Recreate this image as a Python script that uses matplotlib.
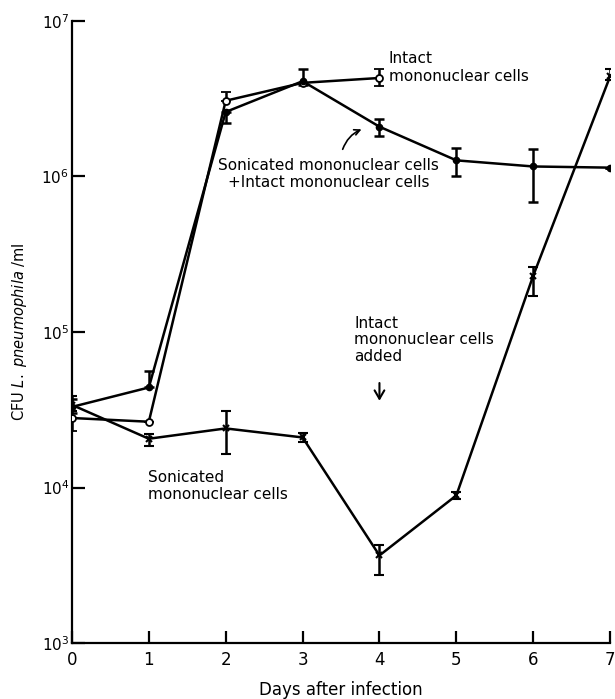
import math
import matplotlib
matplotlib.use("Agg")
import matplotlib.pyplot as plt
from matplotlib.ticker import FixedLocator, FuncFormatter

# days after infection
days = [0, 1, 2, 3, 4, 5, 6, 7]
intact_days = [0, 1, 2, 3, 4]

# intact mononuclear cells (open circles)
intact = [2.8e4, 2.65e4, 3.07e6, 4.0e6, 4.3e6]
intact_lo = [2.3e4, 2.65e4, 3.07e6, 4.0e6, 3.8e6]
intact_hi = [2.8e4, 2.65e4, 3.5e6, 4.0e6, 4.9e6]

# sonicated + intact mononuclear cells (filled circles)
combo = [3.3e4, 4.4e4, 2.6e6, 4.1e6, 2.09e6, 1.27e6, 1.16e6, 1.14e6]
combo_lo = [3.0e4, 4.4e4, 2.2e6, 3.9e6, 1.83e6, 1.0e6, 6.9e5, 1.14e6]
combo_hi = [3.7e4, 5.6e4, 2.6e6, 4.9e6, 2.35e6, 1.53e6, 1.5e6, 1.14e6]

# sonicated mononuclear cells (x), intact cells added at day 4
sonic = [3.4e4, 2.06e4, 2.4e4, 2.1e4, 3.66e3, 8.9e3, 2.3e5, 4.4e6]
sonic_lo = [3.1e4, 1.85e4, 1.65e4, 1.95e4, 2.75e3, 8.5e3, 1.7e5, 4.2e6]
sonic_hi = [3.9e4, 2.2e4, 3.1e4, 2.25e4, 4.3e3, 9.3e3, 2.6e5, 4.9e6]

yticks = [1e3, 1e4, 1e5, 1e6, 1e7]

plt.rcParams["font.family"] = "DejaVu Sans"
plt.rcParams["mathtext.fontset"] = "dejavusans"

fig = plt.figure(figsize=(6.15, 6.99), dpi=100)
ax = fig.add_axes([0.117, 0.080, 0.875, 0.890])


def errs(vals, lo, hi):
    return [[v - l for v, l in zip(vals, lo)], [h - v for v, h in zip(vals, hi)]]


ax.errorbar(intact_days, intact, yerr=errs(intact, intact_lo, intact_hi),
            color="black", lw=1.8, marker="o", ms=5, mfc="white", mec="black",
            mew=1.3, capsize=3.5, capthick=1.8, elinewidth=1.8, zorder=3)
ax.errorbar(days, combo, yerr=errs(combo, combo_lo, combo_hi),
            color="black", lw=1.8, marker="o", ms=4.5, mfc="black",
            capsize=3.5, capthick=1.8, elinewidth=1.8, zorder=3)
ax.errorbar(days, sonic, yerr=errs(sonic, sonic_lo, sonic_hi),
            color="black", lw=1.8, marker="x", ms=5, mew=1.5,
            capsize=3.5, capthick=1.8, elinewidth=1.8, zorder=3)

ax.set_yscale("log")
ax.set_xlim(0, 7)
ax.set_ylim(1e3, 1e7)
ax.yaxis.set_major_locator(FixedLocator(yticks))
ax.yaxis.set_minor_locator(FixedLocator([]))
ax.yaxis.set_major_formatter(FuncFormatter(lambda v, p: r"$10^{%d}$" % round(math.log10(v))))
ax.set_xticks(days)

for s in ["top", "right"]:
    ax.spines[s].set_visible(False)
for s in ["left", "bottom"]:
    ax.spines[s].set_linewidth(1.6)

ax.tick_params(axis="both", direction="in", length=9, width=1.6)
ax.tick_params(axis="x", pad=6, labelsize=12)
ax.tick_params(axis="y", pad=2, labelsize=11)

ax.set_xlabel("Days after infection", fontsize=12, labelpad=8)
ax.set_ylabel(r"CFU $\it{L.\ pneumophila}$ /ml", fontsize=10.5)
ax.yaxis.set_label_coords(-0.08, 0.5)

ax.text(4.12, 10**6.70, "Intact\nmononuclear cells", fontsize=11,
        ha="left", va="center")
ax.text(3.34, 10**6.016, "Sonicated mononuclear cells\n+Intact mononuclear cells",
        fontsize=11, ha="center", va="center", multialignment="center")
ax.text(0.985, 10**4.01, "Sonicated\nmononuclear cells", fontsize=11,
        ha="left", va="center")
ax.text(3.67, 10**4.95, "Intact\nmononuclear cells\nadded", fontsize=11,
        ha="left", va="center", linespacing=1.1)

ax.annotate("", xy=(3.80, 10**6.31), xytext=(3.51, 10**6.158),
            arrowprops=dict(arrowstyle="->", lw=1.2, color="black",
                            connectionstyle="arc3,rad=-0.25"))
ax.annotate("", xy=(4.0, 10**4.54), xytext=(4.0, 10**4.69),
            arrowprops=dict(arrowstyle="->,head_length=0.6,head_width=0.35",
                            lw=1.5, color="black"))

fig.savefig("out.png", dpi=100)
